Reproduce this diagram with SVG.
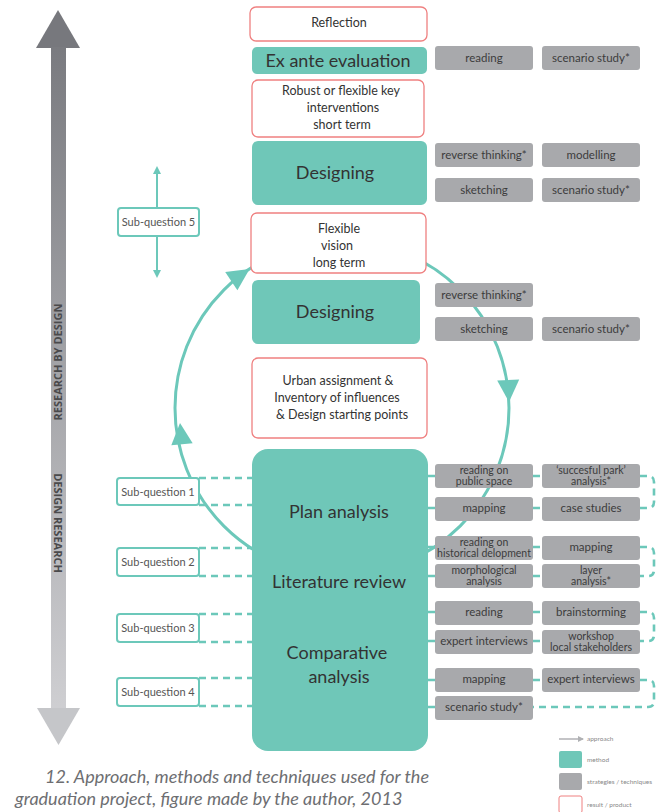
<svg xmlns="http://www.w3.org/2000/svg" width="658" height="812" viewBox="0 0 658 812">
<defs>
<linearGradient id="bar" gradientUnits="userSpaceOnUse" x1="0" y1="10" x2="0" y2="745">
<stop offset="0" stop-color="#75767b"/>
<stop offset="1" stop-color="#d3d3d6"/>
</linearGradient>
<marker id="sq" markerWidth="8" markerHeight="8" refX="4" refY="4" orient="auto" markerUnits="userSpaceOnUse">
<path d="M0,0 L8,4 L0,8 z" fill="#6cc8ba"/>
</marker>
<marker id="lg" markerWidth="6" markerHeight="6" refX="5" refY="3" orient="auto" markerUnits="userSpaceOnUse">
<path d="M0,0 L6,3 L0,6 z" fill="#b0b1b4"/>
</marker>
</defs>
<style>
.t{font-family:Lato,"Liberation Sans",sans-serif;text-anchor:middle;fill:#333}
.m{fill:#6fc7b8}
.r{fill:#fff;stroke:#ef8080;stroke-width:1.3}
.g{fill:#a8a9ac}
.gt{font-family:Lato,"Liberation Sans",sans-serif;text-anchor:middle;fill:#3c3c3c;font-size:11.5px}
.g2{font-family:Lato,"Liberation Sans",sans-serif;text-anchor:middle;fill:#3c3c3c;font-size:10.5px}
.sq{fill:#fff;stroke:#6cc8ba;stroke-width:2}
.st{font-family:Lato,"Liberation Sans",sans-serif;text-anchor:middle;fill:#555;font-size:11px}
.d{fill:none;stroke:#6cc8ba;stroke-width:2.6;stroke-dasharray:7 5}
.big{font-size:18px}
.mid{font-size:12.5px}
.lgt{font-family:Lato,"Liberation Sans",sans-serif;fill:#888;font-size:6.5px}
.vt{font-family:"Open Sans","Liberation Sans",sans-serif;font-weight:bold;font-size:11px;fill:#4a4a4c;text-anchor:middle}
</style>

<!-- vertical bar arrow -->
<g id="bar-arrow">
<polygon points="58,10 36,48 80,48" fill="#77787d"/>
<rect x="51" y="47" width="15" height="662" fill="url(#bar)"/>
<polygon points="37,708 80,708 58.5,745" fill="#c5c6c9"/>
<text class="vt" transform="translate(62,362) rotate(-90)">RESEARCH BY DESIGN</text>
<text class="vt" transform="translate(54,523) rotate(90)">DESIGN RESEARCH</text>
</g>

<!-- connectors -->
<g id="connectors">
<circle cx="342" cy="408" r="167" fill="none" stroke="#6cc8ba" stroke-width="3"/>
<polygon points="249.6,268.9 237.4,290.3 225.2,271.9" fill="#6cc8ba"/>
<polygon points="509,402 519.2,379.6 497.2,380.4" fill="#6cc8ba"/>
<polygon points="180,423 171.3,445.3 192.7,443.3" fill="#6cc8ba"/>
<line x1="157" y1="208" x2="157" y2="170" stroke="#6cc8ba" stroke-width="2" marker-end="url(#sq)"/>
<line x1="157" y1="236" x2="157" y2="274" stroke="#6cc8ba" stroke-width="2" marker-end="url(#sq)"/>
<path class="d" d="M199,478 H252 M199,505 H252 M199,548 H252 M199,576 H252 M199,614 H252 M199,642 H252 M199,678 H252 M199,706 H252"/>
<path class="d" d="M428,476 H435 M428,508 H435 M428,547 H435 M428,576 H435 M428,612 H435 M428,641 H435 M428,680 H435 M428,707 H435"/>
<path class="d" d="M533,476 H542 M533,508 H542 M533,547 H542 M533,576 H542 M533,612 H542 M533,641 H542 M533,680 H542"/>
<path class="d" d="M640,476 H648 Q654,476 654,482 V502 Q654,508 648,508 H640"/>
<path class="d" d="M640,547 H648 Q654,547 654,553 V570 Q654,576 648,576 H640"/>
<path class="d" d="M640,612 H648 Q654,612 654,618 V635 Q654,641 648,641 H640"/>
<path class="d" d="M640,680 H648 Q654,680 654,686 V701 Q654,707 648,707 H533"/>
</g>

<!-- sub-questions -->
<g id="sq5"><rect class="sq" x="118" y="208" width="81" height="28" rx="3"/><text class="st" x="158.5" y="226">Sub-question 5</text></g>
<g id="sq1"><rect class="sq" x="117" y="478" width="82" height="27" rx="3"/><text class="st" x="158" y="495.5">Sub-question 1</text></g>
<g id="sq2"><rect class="sq" x="117" y="548" width="82" height="28" rx="3"/><text class="st" x="158" y="566">Sub-question 2</text></g>
<g id="sq3"><rect class="sq" x="117" y="614" width="82" height="28" rx="3"/><text class="st" x="158" y="632">Sub-question 3</text></g>
<g id="sq4"><rect class="sq" x="117" y="678" width="82" height="28" rx="3"/><text class="st" x="158" y="696">Sub-question 4</text></g>

<!-- center column -->
<g id="reflection"><rect class="r" x="250" y="7" width="177" height="34" rx="6"/><text class="t mid" x="339" y="27">Reflection</text></g>
<g id="exante"><rect class="m" x="252" y="47" width="175" height="27" rx="5"/><text class="t big" x="338" y="67">Ex ante evaluation</text></g>
<g id="robust"><rect class="r" x="252" y="80" width="172" height="57" rx="6"/>
<text class="t mid" x="341" y="95">Robust or flexible key</text>
<text class="t mid" x="343" y="112">interventions</text>
<text class="t mid" x="342" y="129">short term</text></g>
<g id="designing1"><rect class="m" x="252" y="141" width="175" height="64" rx="6"/><text class="t big" x="335" y="179">Designing</text></g>
<g id="flexible"><rect class="r" x="251" y="213" width="175" height="60" rx="6"/>
<text class="t mid" x="339" y="233">Flexible</text>
<text class="t mid" x="337" y="250">vision</text>
<text class="t mid" x="339" y="267">long term</text></g>
<g id="designing2"><rect class="m" x="252" y="280" width="168" height="64" rx="6"/><text class="t big" x="335" y="318">Designing</text></g>
<g id="urban"><rect class="r" x="252" y="358" width="175" height="80" rx="6"/>
<text class="t mid" x="338" y="385">Urban assignment &amp;</text>
<text class="t mid" x="337" y="402">Inventory of influences</text>
<text class="t mid" x="342" y="419">&amp; Design starting points</text></g>
<g id="methods"><rect class="m" x="252" y="449" width="176" height="302" rx="16"/>
<text class="t big" x="339" y="518">Plan analysis</text>
<text class="t big" x="339" y="588">Literature review</text>
<text class="t big" x="337" y="659">Comparative</text>
<text class="t big" x="339" y="683">analysis</text></g>

<!-- techniques -->
<g id="tech-top">
<rect class="g" x="435" y="46" width="98" height="24" rx="3"/><text class="gt" x="484" y="62">reading</text>
<rect class="g" x="542" y="46" width="98" height="24" rx="3"/><text class="gt" x="591" y="62">scenario study*</text>
<rect class="g" x="435" y="143" width="98" height="24" rx="3"/><text class="gt" x="484" y="159">reverse thinking*</text>
<rect class="g" x="542" y="143" width="98" height="24" rx="3"/><text class="gt" x="591" y="159">modelling</text>
<rect class="g" x="435" y="178" width="98" height="24" rx="3"/><text class="gt" x="484" y="194">sketching</text>
<rect class="g" x="542" y="178" width="98" height="24" rx="3"/><text class="gt" x="591" y="194">scenario study*</text>
<rect class="g" x="435" y="283" width="98" height="24" rx="3"/><text class="gt" x="484" y="299">reverse thinking*</text>
<rect class="g" x="435" y="317" width="98" height="24" rx="3"/><text class="gt" x="484" y="333">sketching</text>
<rect class="g" x="542" y="317" width="98" height="24" rx="3"/><text class="gt" x="591" y="333">scenario study*</text>
</g>
<g id="tech-bottom">
<rect class="g" x="435" y="464" width="98" height="24" rx="3"/><text class="g2" x="484" y="474">reading on</text><text class="g2" x="484" y="485">public space</text>
<rect class="g" x="542" y="464" width="98" height="24" rx="3"/><text class="g2" x="591" y="474">‘succesful park’</text><text class="g2" x="591" y="485">analysis*</text>
<rect class="g" x="435" y="497" width="98" height="24" rx="3"/><text class="gt" x="484" y="512">mapping</text>
<rect class="g" x="542" y="497" width="98" height="24" rx="3"/><text class="gt" x="591" y="512">case studies</text>
<rect class="g" x="435" y="536" width="98" height="24" rx="3"/><text class="g2" x="484" y="546">reading on</text><text class="g2" x="484" y="557">historical delopment</text>
<rect class="g" x="542" y="536" width="98" height="24" rx="3"/><text class="gt" x="591" y="551">mapping</text>
<rect class="g" x="435" y="564" width="98" height="24" rx="3"/><text class="g2" x="484" y="574">morphological</text><text class="g2" x="484" y="585">analysis</text>
<rect class="g" x="542" y="564" width="98" height="24" rx="3"/><text class="g2" x="591" y="574">layer</text><text class="g2" x="591" y="585">analysis*</text>
<rect class="g" x="435" y="601" width="98" height="24" rx="3"/><text class="gt" x="484" y="616">reading</text>
<rect class="g" x="542" y="601" width="98" height="24" rx="3"/><text class="gt" x="591" y="616">brainstorming</text>
<rect class="g" x="435" y="630" width="98" height="24" rx="3"/><text class="gt" x="484" y="645">expert interviews</text>
<rect class="g" x="542" y="630" width="98" height="24" rx="3"/><text class="g2" x="591" y="640">workshop</text><text class="g2" x="591" y="651">local stakeholders</text>
<rect class="g" x="435" y="668" width="98" height="24" rx="3"/><text class="gt" x="484" y="683">mapping</text>
<rect class="g" x="542" y="668" width="98" height="24" rx="3"/><text class="gt" x="591" y="683">expert interviews</text>
<rect class="g" x="435" y="696" width="98" height="24" rx="3"/><text class="gt" x="484" y="711">scenario study*</text>
</g>

<!-- legend -->
<g id="legend">
<line x1="559" y1="739" x2="583" y2="739" stroke="#b0b1b4" stroke-width="1.5" marker-end="url(#lg)"/>
<text class="lgt" x="587" y="741">approach</text>
<rect x="559" y="751" width="23" height="17" rx="2" fill="#6fc7b8"/>
<text class="lgt" x="587" y="762">method</text>
<rect x="559" y="773" width="23" height="17" rx="2" fill="#a8a9ac"/>
<text class="lgt" x="587" y="784">strategies / techniques</text>
<rect x="559" y="796" width="23" height="17" rx="2" fill="#fff" stroke="#ef8080" stroke-width="1"/>
<text class="lgt" x="587" y="807">result / product</text>
</g>

<!-- caption -->
<g id="caption" style="font-family:Lato,'Liberation Sans',sans-serif;font-style:italic;font-size:18px;fill:#6d6e71">
<text x="45" y="783">12. Approach, methods and techniques used for the</text>
<text x="15" y="805">graduation project, figure made by the author, 2013</text>
</g>
</svg>
